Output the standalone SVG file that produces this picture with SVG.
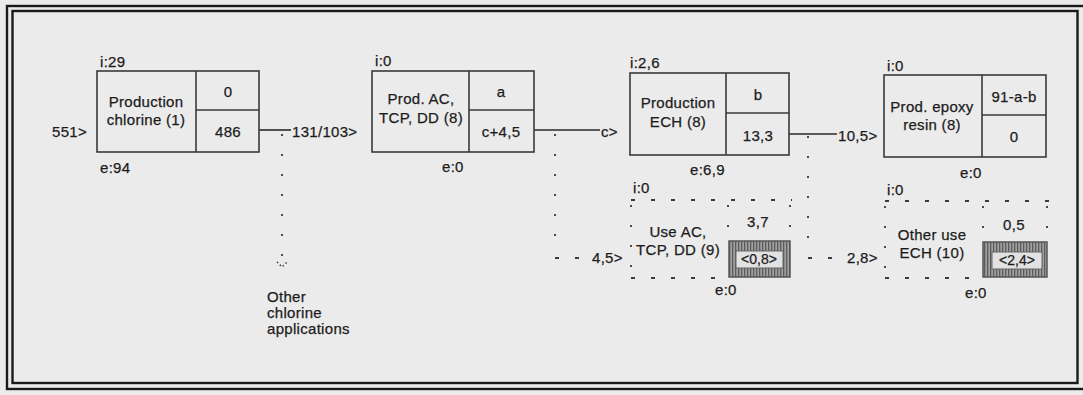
<svg xmlns="http://www.w3.org/2000/svg" width="1083" height="395" viewBox="0 0 1083 395">
<style>
text{font-family:"Liberation Sans",Arial,sans-serif;font-size:15px;letter-spacing:0.3px;fill:#1c1c1c;stroke:#1c1c1c;stroke-width:0.25}
.m{text-anchor:middle}
.box{fill:none;stroke:#3a3a3a;stroke-width:1.6}
.hd{fill:none;stroke:#3a3a3a;stroke-width:1.8;stroke-dasharray:4 16}
.vd{fill:none;stroke:#3a3a3a;stroke-width:1.8;stroke-dasharray:2 18}
.ln{fill:none;stroke:#2a2a2a;stroke-width:1.6}
.frame{fill:none;stroke:#1a1a1a;stroke-width:2.4}
.shade{fill:url(#hatch);stroke:#555;stroke-width:1.5}
.inner{fill:#e2e2e2;stroke:#666;stroke-width:1}
</style>
<defs>
<pattern id="hatch" width="3" height="3" patternUnits="userSpaceOnUse">
<rect width="3" height="3" fill="#a0a0a0"/>
<rect width="1.3" height="3" fill="#5c5c5c"/>
</pattern>
</defs>
<rect width="1083" height="395" fill="#ebebeb"/>
<g id="frame">
<rect class="frame" x="7" y="6" width="1080" height="383"/>
<rect class="frame" x="12.5" y="11" width="1065" height="372" stroke-width="1.8"/>
</g>
<g id="connectors">
<line class="ln" x1="259" y1="130" x2="291" y2="130"/>
<text x="292" y="137">131/103&gt;</text>
<line class="vd" x1="282" y1="134" x2="282" y2="258"/>
<path d="M277 262 L282 267 L287 262" fill="none" stroke="#3a3a3a" stroke-width="1.5" stroke-dasharray="1.5 2.5"/>
<text x="52" y="137">551&gt;</text>
<line class="ln" x1="534" y1="130" x2="600" y2="130"/>
<text x="601" y="137">c&gt;</text>
<line class="vd" x1="555" y1="134" x2="555" y2="250"/>
<line class="hd" x1="555" y1="258" x2="590" y2="258"/>
<text x="592" y="263">4,5&gt;</text>
<line class="ln" x1="789" y1="134" x2="837" y2="134"/>
<text x="838" y="141">10,5&gt;</text>
<line class="vd" x1="808" y1="136" x2="808" y2="250"/>
<line class="hd" x1="808" y1="258" x2="845" y2="258"/>
<text x="847" y="263">2,8&gt;</text>
</g>
<g id="n1">
<rect class="box" x="97" y="71" width="162" height="81"/>
<line class="box" x1="196" y1="71" x2="196" y2="152"/>
<line class="box" x1="196" y1="110" x2="259" y2="110"/>
<text x="100" y="67">i:29</text>
<text x="100" y="173">e:94</text>
<text class="m" x="146" y="107">Production</text>
<text class="m" x="146" y="125">chlorine (1)</text>
<text class="m" x="228" y="97">0</text>
<text class="m" x="228" y="137">486</text>
</g>
<g id="n2">
<rect class="box" x="372" y="71" width="162" height="81"/>
<line class="box" x1="469" y1="71" x2="469" y2="152"/>
<line class="box" x1="469" y1="110" x2="534" y2="110"/>
<text x="375" y="66">i:0</text>
<text x="442" y="172">e:0</text>
<text class="m" x="421" y="104">Prod. AC,</text>
<text class="m" x="421" y="123">TCP, DD (8)</text>
<text class="m" x="501" y="97">a</text>
<text class="m" x="501" y="137">c+4,5</text>
</g>
<g id="n3">
<rect class="box" x="630" y="73" width="159" height="82"/>
<line class="box" x1="726" y1="73" x2="726" y2="155"/>
<line class="box" x1="726" y1="113" x2="789" y2="113"/>
<text x="630" y="68">i:2,6</text>
<text x="690" y="175">e:6,9</text>
<text class="m" x="678" y="108">Production</text>
<text class="m" x="678" y="127">ECH (8)</text>
<text class="m" x="758" y="100">b</text>
<text class="m" x="758" y="141">13,3</text>
</g>
<g id="n4">
<rect class="box" x="884" y="75" width="162" height="82"/>
<line class="box" x1="982" y1="75" x2="982" y2="157"/>
<line class="box" x1="982" y1="115" x2="1046" y2="115"/>
<text x="887" y="71">i:0</text>
<text x="960" y="178">e:0</text>
<text class="m" x="932" y="112">Prod. epoxy</text>
<text class="m" x="932" y="130">resin (8)</text>
<text class="m" x="1014" y="102">91-a-b</text>
<text class="m" x="1014" y="142">0</text>
</g>
<g id="n5">
<line class="hd" x1="631" y1="200" x2="792" y2="200"/>
<line class="hd" x1="631" y1="278" x2="730" y2="278"/>
<line class="vd" x1="631" y1="205" x2="631" y2="278"/>
<line class="vd" x1="728" y1="205" x2="728" y2="242"/>
<line class="vd" x1="790" y1="205" x2="790" y2="242"/>
<rect class="shade" x="729" y="241" width="61" height="36"/>
<rect class="inner" x="736" y="251" width="47" height="17"/>
<text x="633" y="193">i:0</text>
<text x="715" y="295">e:0</text>
<text class="m" x="678" y="237">Use AC,</text>
<text class="m" x="678" y="255">TCP, DD (9)</text>
<text class="m" x="758" y="227">3,7</text>
<text class="m" x="759" y="264" style="font-size:14px;letter-spacing:0">&lt;0,8&gt;</text>
</g>
<g id="n6">
<line class="hd" x1="885" y1="201" x2="1050" y2="201"/>
<line class="hd" x1="885" y1="278" x2="985" y2="278"/>
<line class="vd" x1="885" y1="206" x2="885" y2="278"/>
<line class="vd" x1="983" y1="206" x2="983" y2="242"/>
<line class="vd" x1="1047" y1="206" x2="1047" y2="242"/>
<rect class="shade" x="983" y="242" width="64" height="35"/>
<rect class="inner" x="992" y="252" width="50" height="17"/>
<text x="887" y="195">i:0</text>
<text x="965" y="298">e:0</text>
<text class="m" x="932" y="240">Other use</text>
<text class="m" x="932" y="258">ECH (10)</text>
<text class="m" x="1014" y="230">0,5</text>
<text class="m" x="1017" y="265" style="font-size:14px;letter-spacing:0">&lt;2,4&gt;</text>
</g>
<g id="n7">
<text x="267" y="302">Other</text>
<text x="267" y="318">chlorine</text>
<text x="267" y="334">applications</text>
</g>
</svg>
